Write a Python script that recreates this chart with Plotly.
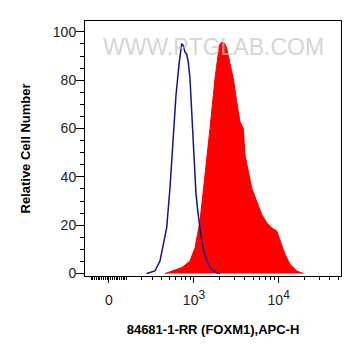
import numpy as np
import plotly.graph_objects as go

# ---- data (fluorescence intensity, APC-H; count normalised to mode) ----
control_x = [244, 322, 377, 416, 461, 508, 559, 604, 663, 710, 742, 779, 816, 854,
             895, 946, 1000, 1057, 1117, 1180, 1246, 1353, 1469, 1594, 1827, 2038]
control_y = [0, 1.1, 5.2, 12.1, 18.9, 35.4, 54.6, 73.8, 87.5, 95.1, 94.4, 91.6, 90.9, 87.5,
             80.7, 64, 47.7, 33, 25, 18, 12.8, 7.4, 4.1, 2, 0.4, 0]

sample_x = [438, 554, 716, 895, 1028, 1180, 1353, 1551, 1778, 1999, 2134, 2335, 2445,
            2674, 2926, 3209, 3509, 3837, 4018, 4394, 4818, 5519, 6321, 7238, 8288,
            9489, 10377, 11883, 13607, 16311, 19513]
sample_y = [0, 1.2, 2.5, 5.2, 10.7, 21.7, 39.5, 60, 80.7, 94.4, 95.8, 95.1, 93,
            87.5, 80.7, 71.1, 62.8, 60, 49.1, 42.3, 35.4, 29.9, 24.4, 21, 18.9,
            17.6, 13.5, 7.9, 3.8, 1.1, 0]

x_major_ticks = [0, 1000, 10000]
x_major_labels = ["0",
                  "10<sup><span style='font-size:12px'>3</span></sup>",
                  "10<sup><span style='font-size:12px'>4</span></sup>"]
x_minor_ticks = ([-100, -90, -80, -70, -60, -50, -40, -30, -20, -10,
                  10, 20, 30, 40, 50, 60, 70, 80, 90, 100,
                  200, 300, 400, 500, 600, 700, 800, 900,
                  2000, 3000, 4000, 5000, 6000, 7000, 8000, 9000,
                  20000, 30000, 40000, 50000])
y_ticks = [0, 20, 40, 60, 80, 100]

x_title = "84681-1-RR (FOXM1),APC-H"
y_title = "Relative Cell Number"
watermark = "WWW.PTGLAB.COM"


# biexponential-like display scale
def T(v):
    return np.arcsinh(np.asarray(v, dtype=float) / 202.0) / np.log(10)


FONT = "Liberation Sans, Arial, sans-serif"

fig = go.Figure()
fig.add_trace(go.Scatter(
    x=T(sample_x), y=sample_y, mode="lines", fill="tozeroy",
    fillcolor="#ff0000", line=dict(color="#ff0000", width=1),
    hoverinfo="skip", showlegend=False))
fig.add_trace(go.Scatter(
    x=T(control_x), y=control_y, mode="lines",
    line=dict(color="#14148c", width=1.5),
    hoverinfo="skip", showlegend=False))

fig.add_annotation(
    text=watermark, xref="paper", yref="paper", x=0.5, y=0.955,
    showarrow=False, font=dict(family=FONT, size=23, color="rgba(195,195,195,0.7)"))

# the page body has an 8px margin, so the figure is sized to fit the window
fig.update_layout(
    width=353, height=348,
    margin=dict(l=77, r=20, t=13, b=80),
    paper_bgcolor="white", plot_bgcolor="white",
    font=dict(family=FONT, size=13, color="black"),
    xaxis=dict(
        range=[float(T(-140)), float(T(54000))],
        tickmode="array", tickvals=T(x_major_ticks).tolist(), ticktext=x_major_labels,
        ticks="outside", ticklen=6, tickwidth=1, tickcolor="black",
        minor=dict(tickmode="array", tickvals=T(x_minor_ticks).tolist(),
                   ticks="outside", ticklen=3, tickwidth=1, tickcolor="black", showgrid=False),
        showline=True, linecolor="black", linewidth=1, mirror=True,
        showgrid=False, zeroline=False,
        tickfont=dict(size=14, color="#222"),
        ticklabelstandoff=5,
        title=dict(text="<b>" + x_title + "</b>", font=dict(size=13), standoff=18),
    ),
    yaxis=dict(
        range=[-1, 104.5],
        tickmode="array", tickvals=y_ticks,
        ticks="outside", ticklen=8, tickwidth=1, tickcolor="black",
        minor=dict(dtick=5, tick0=0, ticks="outside", ticklen=4, tickwidth=1,
                   tickcolor="black", showgrid=False),
        showline=True, linecolor="black", linewidth=1, mirror=True,
        showgrid=False, zeroline=False,
        tickfont=dict(size=14, color="#222"),
        ticklabelstandoff=-3,
        title=dict(text="<b>" + y_title + "</b>", font=dict(size=13), standoff=19),
    ),
)

fig.write_html("out.html")
